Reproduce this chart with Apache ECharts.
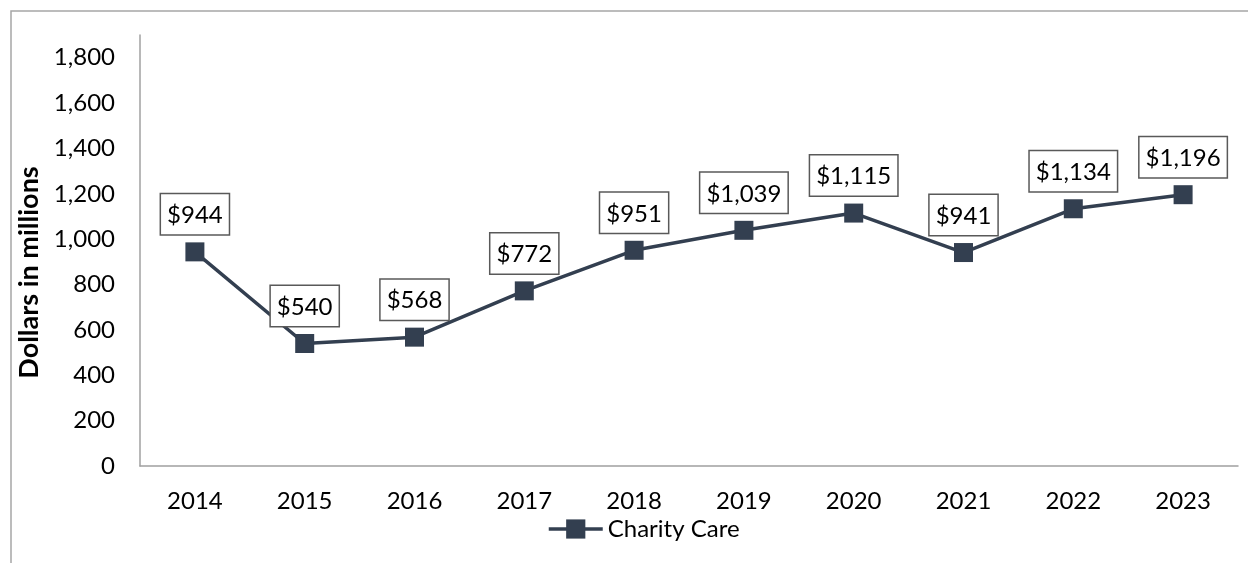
<!DOCTYPE html>
<html>
<head>
<meta charset="utf-8">
<script src="https://cdn.jsdelivr.net/npm/echarts@6/dist/echarts.min.js"></script>
<style>
    html, body { margin: 0; padding: 0; background: #fff; }
    #chart { width: 1248px; height: 563px; }
</style>
</head>
<body>
<div id="chart"></div>
<script>
// 年份
const years = ['2014', '2015', '2016', '2017', '2018', '2019', '2020', '2021', '2022', '2023']
// Charity Care (millions)
const charityCare = [944, 540, 568, 772, 951, 1039, 1115, 941, 1134, 1196]
// y axis ticks
const yMin = 0
const yMax = 1900
const yStep = 200
const yLastLabel = 1800

const lineColor = '#333F50'
const font = 'Lato, Carlito, Calibri, sans-serif'

const myChart = echarts.init(document.getElementById('chart'))
const option = {
    animation: false,
    // outer chart frame (only top/left visible in picture)
    graphic: [{
        type: 'rect',
        shape: { x: 11, y: 11, width: 1400, height: 700 },
        style: { fill: null, stroke: '#A6A6A6', lineWidth: 1.5 },
        silent: true
    }],
    grid: { left: 140, right: 10, top: 35, bottom: 97 },
    legend: {
        data: ['Charity Care'],
        bottom: 17,
        left: 542,
        itemWidth: 54,
        itemHeight: 24,
        lineStyle: { width: 3.5 },
        textStyle: { fontFamily: font, fontSize: 24, color: '#000' }
    },
    xAxis: {
        type: 'category',
        data: years,
        axisLine: { lineStyle: { color: '#A0A0A0', width: 1.5 } },
        axisTick: { show: false },
        axisLabel: { fontFamily: font, fontSize: 24, color: '#000', margin: 23 }
    },
    yAxis: {
        type: 'value',
        min: yMin,
        max: yMax,
        interval: yStep,
        name: 'Dollars in millions',
        nameLocation: 'middle',
        nameGap: 97,
        nameTextStyle: {
            fontFamily: font, fontSize: 27, fontWeight: 'bold', color: '#000',
            padding: [0, 44, 0, 0]
        },
        axisLine: { show: true, lineStyle: { color: '#A0A0A0', width: 1.5 } },
        axisTick: { show: false },
        splitLine: { show: false },
        axisLabel: {
            fontFamily: font, fontSize: 24, color: '#000', margin: 25,
            formatter: v => v > yLastLabel ? '' : v.toLocaleString('en-US')
        }
    },
    series: [{
        name: 'Charity Care',
        type: 'line',
        data: charityCare,
        symbol: 'rect',
        symbolSize: 19,
        itemStyle: { color: lineColor },
        lineStyle: { color: lineColor, width: 3.5 },
        label: {
            show: true,
            position: 'top',
            distance: 8,
            formatter: p => '$' + p.value.toLocaleString('en-US'),
            fontFamily: font,
            fontSize: 24,
            color: '#000',
            backgroundColor: '#fff',
            borderColor: '#595959',
            borderWidth: 1.5,
            padding: [9, 6, 7, 6]
        }
    }]
}
myChart.setOption(option)
</script>
</body>
</html>
